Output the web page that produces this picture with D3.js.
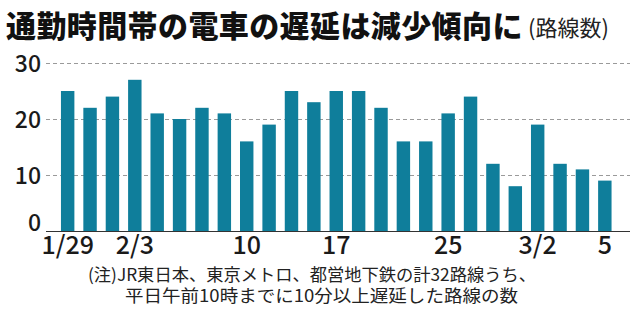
<!DOCTYPE html>
<html><head><meta charset="utf-8">
<script src="https://cdn.jsdelivr.net/npm/d3@7"></script>
<style>
html,body{margin:0;padding:0;background:#fff;}
svg{display:block;}
text{font-family:"Noto Sans CJK JP","Noto Sans",sans-serif;}
</style></head><body>
<svg id="chart" width="630" height="324"></svg>
<script>
const dates = ["1/29","2/1","2/2","2/3","2/4","2/5","2/8","2/9","2/10","2/12","2/15","2/16","2/17","2/18","2/19","2/22","2/24","2/25","2/26","2/27","3/1","3/2","3/3","3/4","3/5"];
const values = [25,22,24,27,21,20,22,21,16,19,25,23,25,25,22,16,16,21,24,12,8,19,12,11,9];
const tickDates = ["1/29","2/3","2/10","2/17","2/25","3/2","3/5"];
const tickLabels = ["1/29","2/3","10","17","25","3/2","5"];
const yTicks = [0,10,20,30];
const title = "通勤時間帯の電車の遅延は減少傾向に";
const unit = "(路線数)";
const notes = ["(注)JR東日本、東京メトロ、都営地下鉄の計32路線うち、","平日午前10時までに10分以上遅延した路線の数"];

const svg = d3.select("#chart");
const x = d3.scaleBand().domain(dates).range([52, 620.5]).paddingInner(0.4).paddingOuter(0.4);
const y = d3.scaleLinear().domain([0,30]).range([231, 63]);

// gridlines
svg.append("g").selectAll("line").data(yTicks.filter(d=>d>0)).join("line")
  .attr("x1",46).attr("x2",630).attr("y1",d=>y(d)+0.5).attr("y2",d=>y(d)+0.5)
  .attr("stroke","#9a9a9a").attr("stroke-width",1).attr("stroke-dasharray","4,3");

// bars
svg.append("g").selectAll("rect").data(values).join("rect")
  .attr("x",(d,i)=>x(dates[i])).attr("width",x.bandwidth())
  .attr("y",d=>y(d)).attr("height",d=>y(0)-y(d))
  .attr("fill","#0f7e9b");

// baseline
svg.append("line").attr("x1",46).attr("x2",630).attr("y1",y(0)+0.5).attr("y2",y(0)+0.5)
  .attr("stroke","#333").attr("stroke-width",1.2);

// y axis labels
const yAxis = d3.axisLeft(y).tickValues(yTicks).tickSize(0).tickPadding(0);
const yg = svg.append("g").attr("transform","translate(41,0)").call(yAxis);
yg.select(".domain").remove();
yg.selectAll("text").attr("font-family",'"Noto Sans CJK JP",sans-serif')
  .attr("font-size",23).attr("font-weight",500).attr("fill","#1a1a1a")
  .attr("dy",d=>d===0?"-0.02em":"0.38em");

// x axis labels
const xAxis = d3.axisBottom(x).tickValues(tickDates).tickSize(0).tickPadding(0)
  .tickFormat(d=>tickLabels[tickDates.indexOf(d)]);
const xg = svg.append("g").attr("transform","translate(0,236)").call(xAxis);
xg.select(".domain").remove();
xg.selectAll("text").attr("font-family",'"Noto Sans CJK JP",sans-serif')
  .attr("font-size",25).attr("font-weight",500).attr("fill","#1a1a1a").attr("dy","0.72em");

// title
svg.append("text").attr("x",6).attr("y",37).attr("font-size",30).attr("font-weight",900)
  .attr("fill","#111").attr("letter-spacing","0.4px").text(title);
svg.append("text").attr("x",528).attr("y",36).attr("font-size",22).attr("font-weight",400)
  .attr("fill","#222").text(unit);

// notes
svg.append("g").selectAll("text").data(notes).join("text")
  .attr("x",(d,i)=>i===0?88:125).attr("y",(d,i)=>281+i*21)
  .attr("font-size",17).attr("fill","#222")
  .attr("textLength",(d,i)=>i===0?448:393).attr("lengthAdjust","spacingAndGlyphs")
  .text(d=>d);
</script>
</body></html>
